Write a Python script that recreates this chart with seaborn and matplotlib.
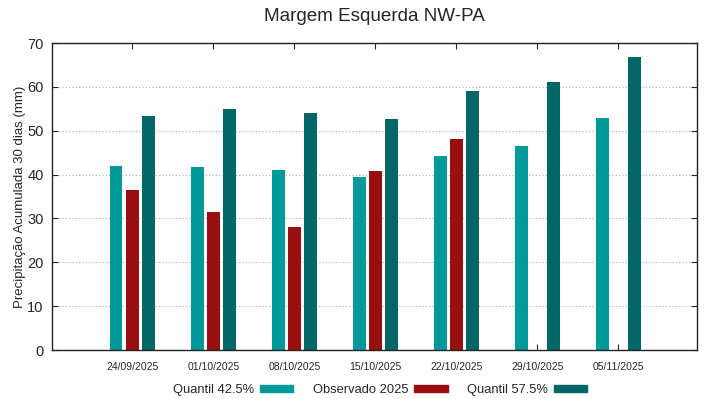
import matplotlib
matplotlib.use("Agg")
import matplotlib.pyplot as plt
import matplotlib.patches as mpatches
import numpy as np
import pandas as pd
import seaborn as sns

# data
datas = ["24/09/2025", "01/10/2025", "08/10/2025", "15/10/2025",
         "22/10/2025", "29/10/2025", "05/11/2025"]
quantil_425 = [42.0, 41.8, 41.1, 39.4, 44.2, 46.5, 53.0]
observado_2025 = [36.5, 31.5, 28.0, 40.8, 48.1, np.nan, np.nan]
quantil_575 = [53.4, 55.0, 54.0, 52.7, 59.1, 61.2, 66.9]

series = ["Quantil 42.5%", "Observado 2025", "Quantil 57.5%"]
cores = ["#009999", "#990f0f", "#006666"]

df = pd.DataFrame({
    "data": datas * 3,
    "valor": quantil_425 + observado_2025 + quantil_575,
    "serie": [s for s in series for _ in datas],
})

sns.set_style("white")
plt.rcParams["font.family"] = ["Liberation Sans", "DejaVu Sans"]

fig = plt.figure(figsize=(7.19, 3.99), dpi=100)
ax = fig.add_axes([52 / 719, 49 / 399, 645 / 719, 307 / 399])

sns.barplot(data=df, x="data", y="valor", hue="serie", hue_order=series,
            palette=cores, width=0.6, gap=0.2, saturation=1, linewidth=0,
            order=datas, legend=False, ax=ax)

ax.set_xlim(-0.99, 6.97)
ax.set_ylim(0, 70)
ax.set_yticks(range(0, 71, 10))
ax.yaxis.grid(True, linestyle=(0, (1, 2)), color="#aaaaaa", linewidth=0.8)
ax.set_axisbelow(True)

for s in ax.spines.values():
    s.set_color("#222222")
    s.set_linewidth(1.0)

ax.tick_params(axis="y", direction="in", left=True, right=True, labelsize=10.5,
               length=4, pad=6)
ax.tick_params(axis="x", direction="in", bottom=True, top=True, labelsize=7.5,
               length=4, pad=9)

ax.set_xlabel("")
ax.set_ylabel("Precipitação Acumulada 30 dias (mm)", fontsize=9.5, labelpad=1)
ax.set_title("Margem Esquerda NW-PA", fontsize=13.6, pad=16)

handles = [mpatches.Patch(color=c, label=s) for s, c in zip(series, cores)]
ax.legend(handles=handles, ncol=3, frameon=False, markerfirst=False,
          loc="center", bbox_to_anchor=(328 / 645, -40 / 307),
          fontsize=9.3, handlelength=2.6, handleheight=0.45,
          handletextpad=0.45, columnspacing=1.5, borderpad=0)

fig.savefig("out.png", dpi=100)
